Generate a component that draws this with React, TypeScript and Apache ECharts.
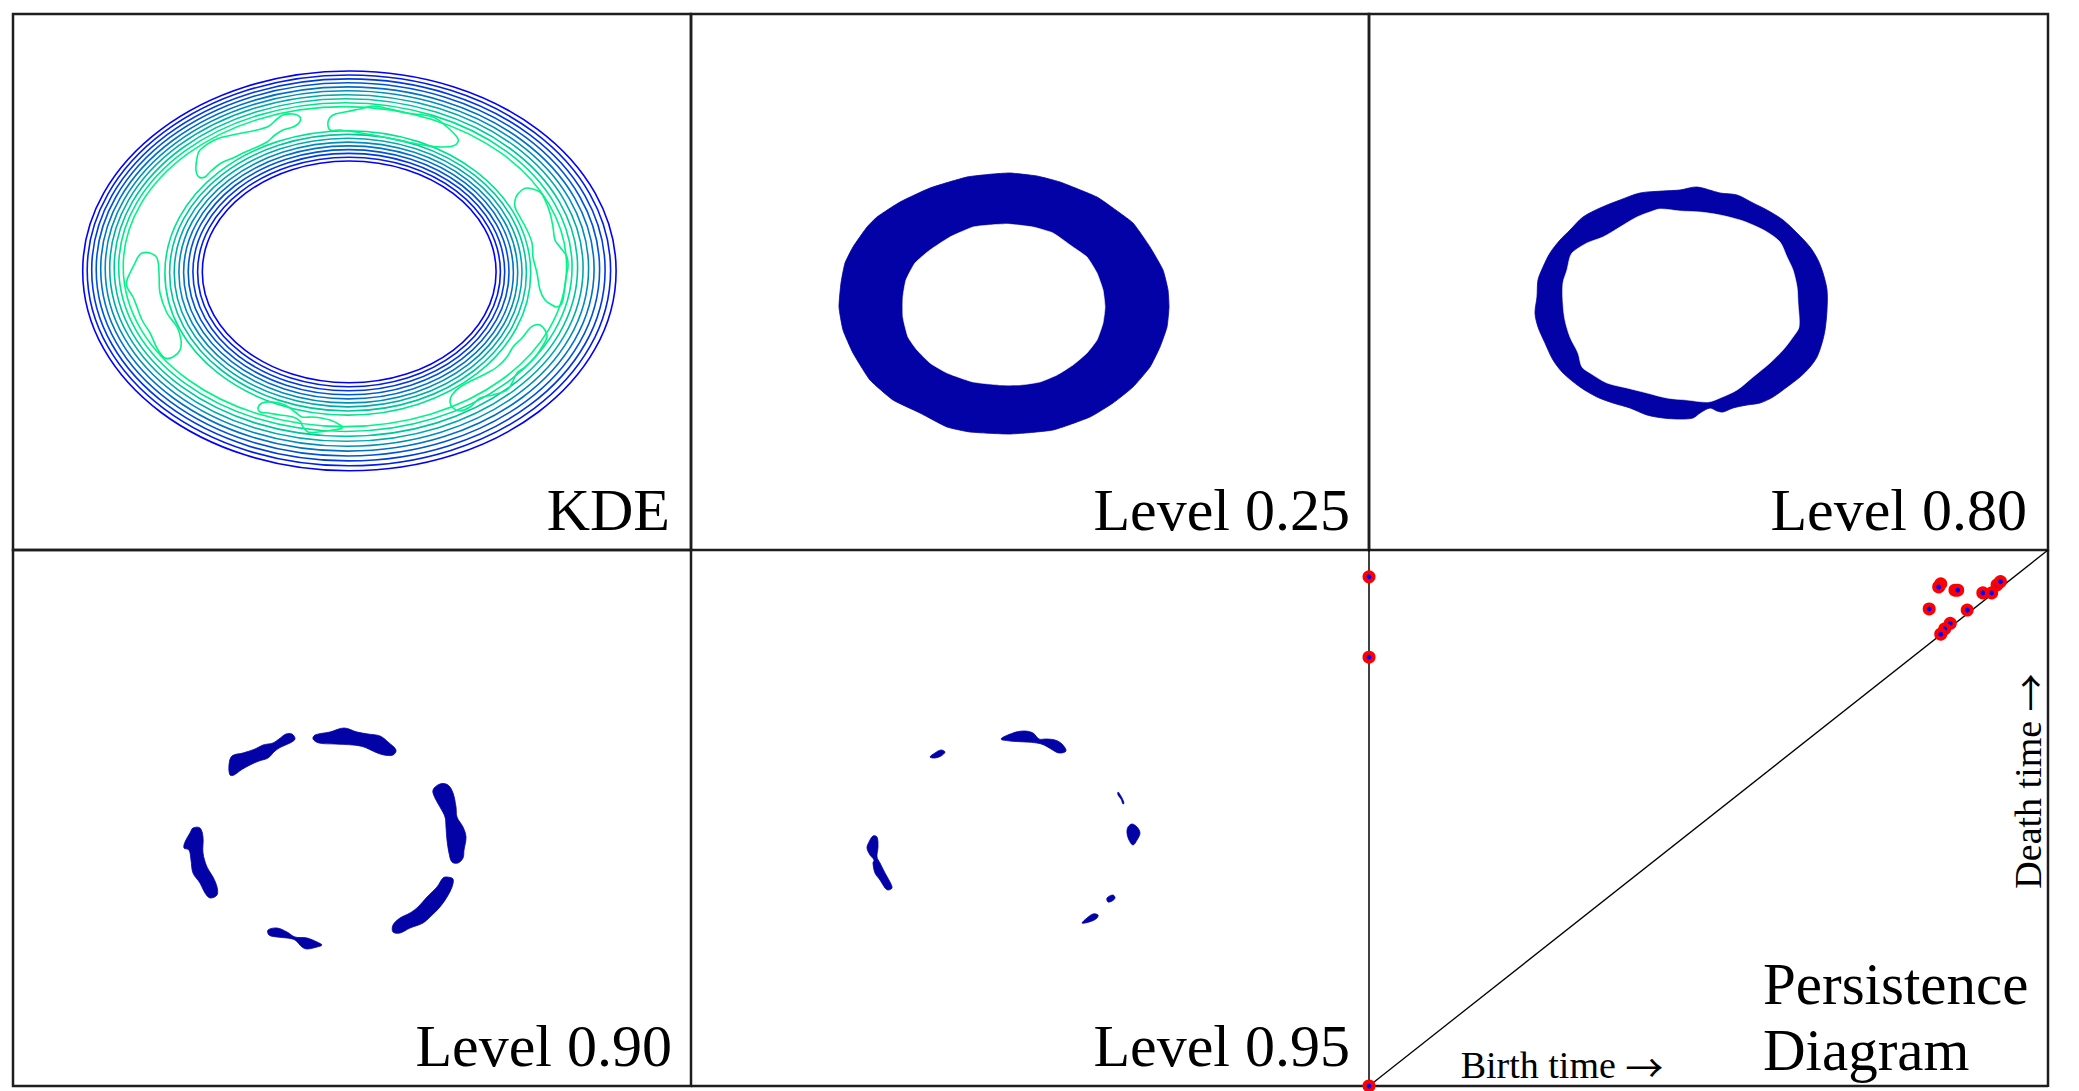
import { useEffect, useRef } from "react";
import * as echarts from "echarts";

// ---------------------------------------------------------------------------
// Panel geometry (grid units of the density image, x to the right, y down)
// ---------------------------------------------------------------------------
const PANEL_W = 678;
const PANEL_H = 536;

// Contour level colours ("winter" ramp, level 1 = lowest density)
const LEVEL_COLORS = [
  "#0000ff", "#001cf1", "#0039e3", "#0055d5", "#0071c6",
  "#008eb8", "#00aaaa", "#00c69c", "#00e38e", "#00f588",
];
const FILL_BLUE = "#0202a6";

// KDE: nested ring contours outside the band, level 1..10  [cx, cy, rx, ry]
const kdeOuterRings = [
  [336.4, 256.9, 266.7, 199.9],
  [335.9, 256.4, 261.7, 195.4],
  [335.4, 255.9, 256.7, 191.0],
  [334.9, 255.4, 251.7, 186.6],
  [334.4, 255.0, 246.7, 182.1],
  [333.9, 254.5, 241.7, 177.7],
  [333.4, 254.0, 236.7, 173.3],
  [332.9, 253.6, 231.7, 168.8],
  [332.4, 253.1, 226.7, 164.4],
  [331.9, 252.6, 221.7, 160.0],
];

// KDE: ring contours around the hole, level 1..9  [cx, cy, rx, ry]
const kdeInnerRings = [
  [336.2, 257.9, 146.9, 110.9],
  [336.0, 258.0, 151.4, 114.8],
  [335.8, 258.1, 155.9, 118.7],
  [335.6, 258.2, 160.4, 122.6],
  [335.5, 258.4, 164.9, 126.5],
  [335.3, 258.5, 169.4, 130.4],
  [335.1, 258.6, 173.9, 134.3],
  [335.0, 258.7, 178.4, 138.3],
  [334.8, 258.9, 182.9, 142.2],
];

// KDE: highest-level islands along the band
const kdeBlobs = [
  [[183, 156], [184, 144], [187, 136], [204, 125], [224, 120], [244, 116], [256, 112], [264, 105], [270, 101], [280, 100], [287, 103], [286, 109], [280, 113], [270, 116], [262, 121], [254, 128], [244, 133], [230, 139], [220, 144], [210, 148], [204, 152], [197, 158], [192, 163], [186, 163]],
  [[315, 108], [320, 101], [332, 98], [347, 95], [360, 92], [377, 95], [394, 99], [420, 103], [434, 113], [444, 123], [445, 128], [440, 132], [427, 133], [410, 131], [394, 128], [360, 121], [327, 116], [317, 116]],
  [[509, 176], [514, 174], [527, 178], [532, 186], [537, 199], [540, 213], [542, 226], [547, 233], [554, 243], [555, 253], [553, 263], [551, 279], [549, 289], [544, 293], [539, 291], [532, 286], [527, 276], [524, 259], [520, 243], [519, 229], [514, 216], [507, 203], [502, 193], [503, 183]],
  [[527, 311], [532, 316], [534, 323], [529, 333], [522, 343], [512, 353], [504, 359], [499, 369], [494, 376], [480, 381], [467, 384], [457, 393], [447, 397], [440, 394], [437, 388], [439, 381], [447, 373], [460, 366], [474, 359], [484, 353], [494, 343], [500, 333], [509, 324], [517, 314], [522, 311]],
  [[245, 394], [249, 389], [260, 388], [272, 391], [282, 398], [289, 403], [300, 403], [317, 406], [327, 411], [329, 414], [320, 416], [305, 418], [295, 418], [290, 413], [287, 407], [280, 403], [267, 401], [255, 399], [247, 398]],
  [[129, 239], [137, 239], [144, 244], [146, 259], [147, 279], [154, 299], [164, 313], [168, 326], [167, 336], [160, 343], [152, 344], [145, 336], [137, 319], [129, 306], [124, 293], [120, 283], [114, 273], [114, 266], [117, 259], [122, 249], [125, 243]],
];

// Superlevel set at 0.25: outer boundary and hole
const level25Outer = [[319, 159], [346, 162], [369, 168], [406, 183], [422, 194], [442, 209], [459, 233], [472, 256], [477, 276], [478, 293], [476, 313], [469, 333], [459, 353], [442, 373], [422, 389], [399, 403], [362, 416], [319, 420], [279, 418], [256, 413], [229, 399], [202, 386], [179, 366], [162, 339], [152, 316], [148, 293], [150, 269], [154, 249], [162, 233], [176, 213], [186, 203], [209, 188], [239, 174], [276, 163], [302, 160]];
const level25Hole = [[316, 210], [342, 213], [362, 219], [382, 233], [396, 243], [406, 259], [412, 276], [414, 293], [412, 309], [406, 326], [396, 339], [382, 351], [366, 361], [349, 368], [329, 371], [309, 371], [282, 368], [256, 359], [239, 349], [226, 336], [217, 323], [212, 303], [212, 283], [215, 266], [224, 249], [239, 236], [259, 223], [282, 213], [299, 211]];

// Superlevel set at 0.80: outer boundary and hole
const level80Outer = [[328, 173], [351, 179], [368, 181], [384, 189], [398, 196], [414, 206], [428, 219], [441, 233], [449, 246], [454, 259], [458, 276], [458, 296], [456, 316], [453, 329], [448, 343], [441, 353], [431, 363], [418, 373], [404, 383], [391, 389], [378, 391], [364, 394], [354, 398], [348, 397], [341, 394], [331, 399], [324, 404], [311, 405], [294, 404], [278, 401], [261, 394], [244, 389], [228, 383], [211, 373], [194, 359], [184, 346], [176, 329], [169, 313], [166, 299], [168, 283], [169, 266], [174, 253], [181, 239], [191, 226], [201, 216], [214, 203], [231, 194], [251, 186], [271, 179], [294, 177], [311, 176]];
const level80Hole = [[291, 195], [311, 197], [331, 198], [351, 201], [371, 206], [384, 211], [398, 218], [411, 228], [418, 243], [424, 256], [428, 273], [429, 289], [430, 313], [424, 323], [414, 336], [401, 349], [384, 363], [368, 376], [351, 384], [339, 388], [318, 386], [298, 384], [278, 379], [258, 374], [238, 369], [221, 359], [213, 353], [209, 339], [201, 323], [196, 306], [194, 289], [194, 269], [198, 256], [201, 243], [204, 238], [218, 229], [234, 223], [251, 213], [268, 203], [281, 198]];

// Superlevel set at 0.90: separate components
const level90Blobs = [
  [[217, 225], [216, 215], [219, 206], [230, 203], [242, 199], [250, 195], [260, 193], [266, 189], [273, 184], [279, 184], [282, 189], [277, 193], [268, 197], [262, 201], [255, 208], [246, 211], [237, 215], [228, 220], [221, 225]],
  [[302, 185], [317, 182], [331, 178], [344, 182], [355, 184], [367, 186], [375, 192], [383, 200], [380, 205], [371, 205], [362, 202], [351, 197], [340, 195], [322, 194], [306, 193], [300, 189]],
  [[420, 240], [427, 234], [435, 235], [440, 243], [443, 257], [444, 267], [450, 277], [453, 287], [451, 300], [450, 308], [445, 313], [439, 312], [436, 303], [434, 290], [433, 277], [432, 267], [427, 257], [422, 248]],
  [[434, 327], [440, 329], [439, 337], [434, 347], [427, 357], [417, 367], [410, 373], [397, 378], [387, 383], [380, 382], [380, 375], [387, 368], [397, 363], [405, 357], [414, 347], [424, 337], [430, 328]],
  [[255, 380], [264, 378], [274, 382], [282, 387], [294, 388], [304, 392], [309, 395], [304, 397], [294, 399], [289, 397], [282, 390], [274, 388], [264, 387], [256, 385]],
  [[180, 278], [187, 278], [190, 287], [190, 303], [194, 317], [200, 327], [204, 337], [204, 345], [197, 348], [192, 343], [187, 333], [180, 323], [178, 310], [176, 300], [171, 298], [172, 292], [177, 283]],
];

// Superlevel set at 0.95: separate components
const level95Blobs = [
  [[310, 189], [322, 183], [333, 181], [342, 183], [348, 189], [355, 189], [364, 190], [371, 194], [375, 201], [368, 203], [360, 199], [353, 195], [346, 193], [335, 192], [319, 191]],
  [[239, 207], [244, 203], [250, 200], [254, 202], [250, 206], [244, 208]],
  [[182, 286], [186, 287], [187, 297], [186, 307], [189, 313], [194, 323], [199, 332], [201, 338], [197, 340], [194, 338], [189, 330], [184, 323], [182, 313], [183, 310], [179, 305], [176, 298], [178, 292]],
  [[441, 274], [446, 277], [449, 283], [446, 290], [442, 295], [438, 290], [436, 283], [437, 277]],
  [[427, 242], [428, 243], [431, 248], [433, 253], [432, 254], [430, 249], [427, 245]],
  [[416, 348], [422, 345], [424, 348], [421, 351], [417, 352]],
  [[391, 373], [396, 368], [402, 364], [407, 365], [406, 368], [401, 371], [394, 373]],
];

// Persistence diagram: [birth, death]
const essentialPoints = [
  [0, 0.95],
  [0, 0.8],
  [0, 0],
];
const finitePoints = [
  [0.842, 0.937], [0.839, 0.931], [0.863, 0.925], [0.867, 0.925],
  [0.904, 0.92], [0.917, 0.92], [0.925, 0.935], [0.93, 0.941],
  [0.825, 0.89], [0.881, 0.888], [0.856, 0.863], [0.848, 0.853],
  [0.842, 0.843],
];
const diagonal = [
  [0, 0],
  [1, 1],
];

const panelTitles = ["KDE", "Level 0.25", "Level 0.80", "Level 0.90", "Level 0.95"];

// ---------------------------------------------------------------------------
const SERIF = "'Liberation Serif', 'DejaVu Serif', serif";
const ARROW_FONT = "'Noto Sans CJK JP', 'DejaVu Sans', sans-serif";
const FRAME = "#1e1e1e";

const grids = [
  { left: 13, top: 14, width: 678, height: 536, show: true },
  { left: 691, top: 14, width: 678, height: 536, show: true },
  { left: 1369, top: 14, width: 679, height: 536, show: true },
  { left: 13, top: 550, width: 678, height: 536, show: true },
  { left: 691, top: 550, width: 678, height: 536, show: false },
  { left: 1369, top: 550, width: 679, height: 536, show: false },
];

function imageAxes(idx: number) {
  const x = { type: "value", gridIndex: idx, min: 0, max: idx === 2 ? PANEL_W + 1 : PANEL_W, show: false };
  const y = { type: "value", gridIndex: idx, min: 0, max: PANEL_H, inverse: true, show: false };
  return { x, y };
}

function polygonSeries(idx: number, shapes: number[][][], style: any, smooth: number) {
  return {
    type: "custom",
    coordinateSystem: "cartesian2d",
    xAxisIndex: idx,
    yAxisIndex: idx,
    silent: true,
    clip: false,
    data: shapes.map((s) => s[0]),
    renderItem: (params: any, api: any) => {
      const pts = shapes[params.dataIndex].map((p) => api.coord(p));
      return {
        type: "polygon",
        shape: { points: pts, smooth },
        style,
      };
    },
  };
}

function ringSeries(idx: number, rings: number[][]) {
  return {
    type: "custom",
    coordinateSystem: "cartesian2d",
    xAxisIndex: idx,
    yAxisIndex: idx,
    silent: true,
    clip: false,
    data: rings,
    encode: { x: 0, y: 1 },
    renderItem: (params: any, api: any) => {
      const c = api.coord([api.value(0), api.value(1)]);
      const s = api.size([api.value(2), api.value(3)]);
      return {
        type: "ellipse",
        shape: { cx: c[0], cy: c[1], rx: s[0], ry: s[1] },
        style: { fill: "none", stroke: LEVEL_COLORS[params.dataIndex], lineWidth: 1.6 },
      };
    },
  };
}

function textEl(x: number, y: number, text: string, size: number, align: string, extra: any = {}) {
  return {
    type: "text",
    x,
    y,
    silent: true,
    ...extra,
    style: {
      text,
      fontFamily: SERIF,
      fontSize: size,
      fill: "#000",
      align,
      verticalAlign: "middle",
      textAlign: align,
      textVerticalAlign: "middle",
      rich: { a: { fontFamily: ARROW_FONT, fontSize: size, fill: "#000" } },
    },
  };
}

function frameLine(x1: number, y1: number, x2: number, y2: number) {
  return {
    type: "line",
    z: 1,
    silent: true,
    shape: { x1, y1, x2, y2 },
    style: { stroke: FRAME, lineWidth: 2.5 },
  };
}

function buildOption() {
  const xAxes: any[] = [];
  const yAxes: any[] = [];
  for (let i = 0; i < 5; i++) {
    const a = imageAxes(i);
    xAxes.push(a.x);
    yAxes.push(a.y);
  }
  // persistence diagram axes: only the birth = 0 axis line is drawn
  xAxes.push({ type: "value", gridIndex: 5, min: 0, max: 1, show: false });
  yAxes.push({
    type: "value",
    gridIndex: 5,
    min: 0,
    max: 1,
    show: true,
    axisLine: { show: true, lineStyle: { color: "#000", width: 1.5 } },
    axisTick: { show: false },
    axisLabel: { show: false },
    splitLine: { show: false },
  });

  const blobLine = { fill: "none", stroke: LEVEL_COLORS[9], lineWidth: 1.6 };
  const blueFill = { fill: FILL_BLUE, stroke: FILL_BLUE, lineWidth: 0.8 };
  const whiteFill = { fill: "#ffffff", stroke: "#ffffff", lineWidth: 0.6 };

  const series: any[] = [
    ringSeries(0, kdeOuterRings),
    ringSeries(0, kdeInnerRings),
    polygonSeries(0, kdeBlobs, blobLine, 0.35),
    polygonSeries(1, [level25Outer], blueFill, 0.15),
    polygonSeries(1, [level25Hole], whiteFill, 0.15),
    polygonSeries(2, [level80Outer], blueFill, 0.3),
    polygonSeries(2, [level80Hole], whiteFill, 0.3),
    polygonSeries(3, level90Blobs, blueFill, 0.35),
    polygonSeries(4, level95Blobs, blueFill, 0.35),
    {
      type: "line",
      xAxisIndex: 5,
      yAxisIndex: 5,
      data: diagonal,
      symbol: "none",
      silent: true,
      lineStyle: { color: "#000", width: 1.3 },
    },
    {
      type: "scatter",
      xAxisIndex: 5,
      yAxisIndex: 5,
      data: [...finitePoints, ...essentialPoints],
      symbol: "circle",
      symbolSize: 9,
      clip: false,
      silent: true,
      z: 5,
      itemStyle: { color: "#0000ff", borderColor: "#ff0000", borderWidth: 4, opacity: 1 },
    },
  ];

  const titlePos = [
    [670, 510],
    [1350, 510],
    [2027, 510],
    [672, 1046],
    [1350, 1046],
  ];
  const graphic: any[] = panelTitles.map((t, i) => textEl(titlePos[i][0], titlePos[i][1], t, 60, "right"));
  graphic.push(
    textEl(1763, 984, "Persistence", 59, "left"),
    textEl(1763, 1050, "Diagram", 59, "left"),
    textEl(1562, 1065, "Birth time {a|\u2192}", 38, "center"),
    textEl(2028, 781, "Death time {a|\u2192}", 38, "center", { rotation: Math.PI / 2 }),
    // outer frame of the bottom-middle and persistence panels
    frameLine(691, 1086, 2048, 1086),
    frameLine(2048, 550, 2048, 1087)
  );

  return {
    animation: false,
    backgroundColor: "#ffffff",
    grid: grids.map((g) => ({ ...g, borderColor: FRAME, borderWidth: 2.5, backgroundColor: "transparent" })),
    xAxis: xAxes,
    yAxis: yAxes,
    series,
    graphic,
  };
}

export default function App() {
  const ref = useRef<HTMLDivElement>(null);
  useEffect(() => {
    document.body.style.margin = "0";
    const chart = echarts.init(ref.current!, undefined, { renderer: "svg", width: 2079, height: 1091 });
    chart.setOption(buildOption() as any);
    return () => chart.dispose();
  }, []);
  return (
    <div
      ref={ref}
      style={{ position: "absolute", left: 0, top: 0, width: 2079, height: 1091, background: "#fff" }}
    />
  );
}
